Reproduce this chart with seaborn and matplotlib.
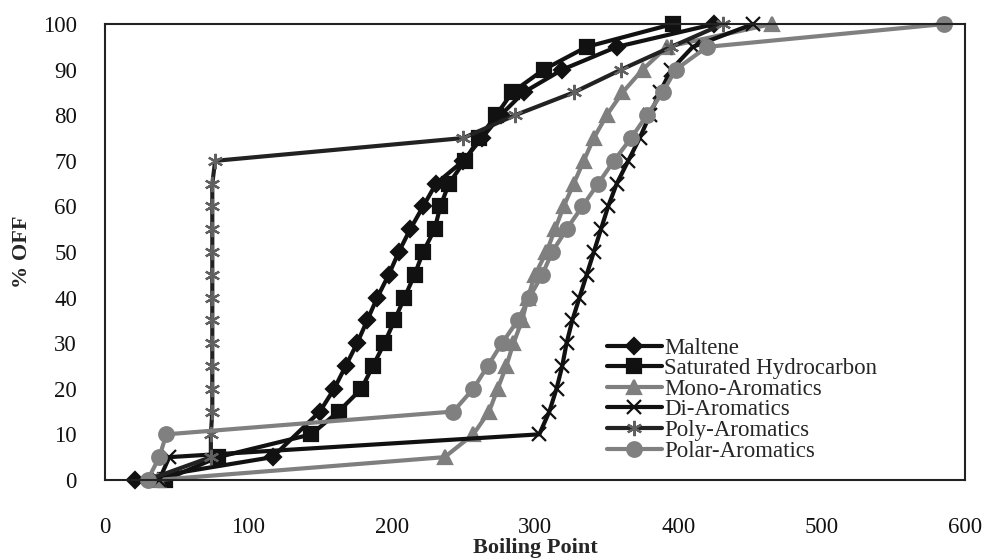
import matplotlib
matplotlib.use("Agg")
import matplotlib.pyplot as plt
import seaborn as sns
import pandas as pd

# ---- data ----
maltene_x = [21, 117, 150, 160, 168, 176, 183, 190, 198, 205, 213, 222, 231, 250, 263, 276, 292, 319, 357, 425]
maltene_y = [0, 5, 15, 20, 25, 30, 35, 40, 45, 50, 55, 60, 65, 70, 75, 80, 85, 90, 95, 100]

sat_x = [42, 79, 144, 163, 179, 187, 195, 202, 209, 216, 222, 230, 234, 240, 251, 261, 273, 284, 306, 336, 396]
sat_y = [0, 5, 10, 15, 20, 25, 30, 35, 40, 45, 50, 55, 60, 65, 70, 75, 80, 85, 90, 95, 100]

mono_x = [37, 237, 257, 268, 274, 280, 285, 291, 295, 300, 308, 314, 320, 327, 334, 341, 350, 361, 375, 392, 465]
mono_y = [0, 5, 10, 15, 20, 25, 30, 35, 40, 45, 50, 55, 60, 65, 70, 75, 80, 85, 90, 95, 100]

di_x = [38, 45, 303, 310, 315, 319, 322, 326, 331, 336, 341, 346, 351, 357, 365, 373, 380, 387, 395, 410, 452]
di_y = [0, 5, 10, 15, 20, 25, 30, 35, 40, 45, 50, 55, 60, 65, 70, 75, 80, 85, 90, 95, 100]

poly_x = [30, 74, 74, 75, 75, 75, 75, 75, 75, 75, 75, 75, 75, 75, 77, 250, 286, 327, 360, 395, 431]
poly_y = [0, 5, 10, 15, 20, 25, 30, 35, 40, 45, 50, 55, 60, 65, 70, 75, 80, 85, 90, 95, 100]

polar_x = [30, 38, 43, 243, 257, 267, 277, 288, 296, 305, 312, 322, 333, 344, 355, 367, 378, 389, 398, 420, 585]
polar_y = [0, 5, 10, 15, 20, 25, 30, 35, 40, 45, 50, 55, 60, 65, 70, 75, 80, 85, 90, 95, 100]

x_ticks = [0, 100, 200, 300, 400, 500, 600]
y_ticks = [0, 10, 20, 30, 40, 50, 60, 70, 80, 90, 100]

series = [
    ("Maltene", maltene_x, maltene_y, "D", 8, "#111111", "#111111"),
    ("Saturated Hydrocarbon", sat_x, sat_y, "s", 10.5, "#111111", "#111111"),
    ("Mono-Aromatics", mono_x, mono_y, "^", 9.5, "#7f7f7f", "#7f7f7f"),
    ("Di-Aromatics", di_x, di_y, "x", 10, "#111111", "#111111"),
    ("Poly-Aromatics", poly_x, poly_y, (6, 2, 0), 11, "#222222", "#606060"),
    ("Polar-Aromatics", polar_x, polar_y, "o", 10.5, "#808080", "#808080"),
]

sns.set_style("white")
plt.rcParams["font.family"] = ["Liberation Serif", "DejaVu Serif"]

fig = plt.figure(figsize=(9.88, 5.6), dpi=100)
ax = fig.add_axes([0.106, 0.143, 0.871, 0.814])

for name, xs, ys, mk, ms, lc, mc in series:
    df = pd.DataFrame({"x": xs, "y": ys})
    sns.lineplot(data=df, x="x", y="y", ax=ax, sort=False, estimator=None,
                 color=lc, linewidth=3.0, marker=mk, markersize=ms,
                 markerfacecolor=mc, markeredgecolor=mc, markeredgewidth=1.6,
                 label=name, clip_on=False)

ax.set_xlim(0, 600)
ax.set_ylim(0, 100)
ax.set_xticks(x_ticks)
ax.set_yticks(y_ticks)
ax.tick_params(axis="both", length=0, labelsize=16.5, colors="#111111")
ax.tick_params(axis="x", pad=27)
ax.tick_params(axis="y", pad=20)
for s in ax.spines.values():
    s.set_visible(True)
    s.set_color("#222222")
    s.set_linewidth(1.5)
ax.set_xlabel("Boiling Point", fontsize=16, fontweight="bold", labelpad=0)
ax.set_ylabel("% OFF", fontsize=16, fontweight="bold", labelpad=8)

leg = ax.legend(loc="lower left", bbox_to_anchor=(0.573, 0.02), frameon=False,
                fontsize=16.5, handlelength=2.4, handletextpad=0.1,
                labelspacing=-0.02, borderaxespad=0)

fig.savefig("out.png", dpi=100)
